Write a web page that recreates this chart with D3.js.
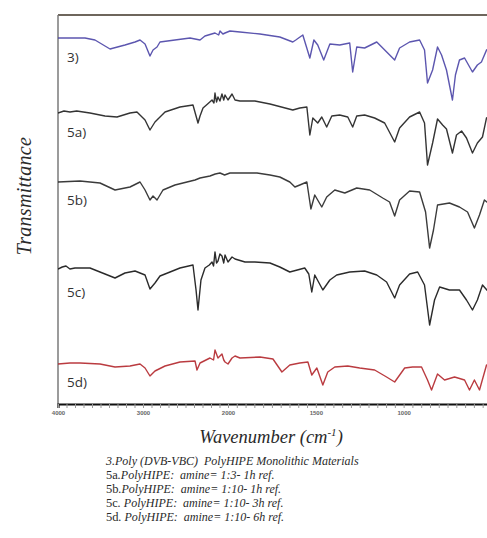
<!DOCTYPE html>
<html>
<head>
<meta charset="utf-8">
<script src="https://cdn.jsdelivr.net/npm/d3@7"></script>
<style>
  body { margin: 0; background: #fff; }
  svg { display: block; }
</style>
</head>
<body>
<svg id="chart" width="487" height="538"></svg>
<script>
// FTIR spectra, [wavenumber cm-1, transmittance a.u. relative to own baseline]
const spec3 = [
  [4000,0],[3682,0],[3565,-2],[3388,-11],[3212,-7],[3094,-4],[3035,-2],[2976,-6],[2918,-18],
  [2882,-12],[2835,-9],[2800,-4],[2624,-2],[2447,0],[2329,-2],[2271,2],[2153,5],[2110,3],[2094,7],
  [2060,4],[2035,5],[1989,7],[1932,6],[1818,4],[1705,1],[1631,-4],[1614,-2],[1574,3],[1534,-20],
  [1511,-2],[1489,-7],[1455,-22],[1420,-6],[1364,-7],[1307,-5],[1290,-34],[1267,-9],[1222,-10],
  [1153,-4],[1119,-10],[1051,-22],[1023,-10],[966,-4],[909,-2],[881,-12],[864,-45],[835,-32],
  [807,-9],[784,-17],[756,-32],[722,-62],[705,-37],[682,-22],[653,-20],[608,-34],[580,-27],
  [557,-24],[528,-12],[500,-8]
];
const spec5a = [
  [4000,0],[3930,2],[3859,1],[3780,2],[3624,0],[3447,-3],[3306,-4],[3153,0],[3071,1],[2976,-7],
  [2918,-17],[2859,-9],[2741,1],[2565,6],[2412,8],[2353,-10],[2329,-3],[2294,5],[2240,9],[2188,13],
  [2165,10],[2153,20],[2135,11],[2118,16],[2095,12],[2071,19],[2050,13],[2035,18],[2000,13],
  [1977,19],[1960,13],[1932,12],[1847,12],[1761,9],[1631,3],[1591,5],[1551,6],[1534,-22],[1517,-5],
  [1489,-10],[1466,-4],[1438,-14],[1409,-3],[1364,-2],[1318,-4],[1290,-14],[1267,-3],[1222,-2],
  [1165,-5],[1108,-10],[1051,-29],[1023,-15],[966,-4],[909,1],[881,-10],[864,-52],[835,-30],
  [807,-6],[778,-12],[756,-16],[722,-40],[699,-22],[670,-18],[642,-25],[608,-40],[580,-30],
  [551,-24],[528,-5],[500,-3]
];
const spec5b = [
  [4000,0],[3741,1],[3506,-1],[3329,-8],[3153,-5],[3035,0],[2976,-8],[2918,-18],[2882,-14],
  [2835,-18],[2765,-8],[2624,-3],[2388,2],[2329,4],[2212,6],[2150,8],[2094,9],[2040,7],[1989,9],
  [1932,9],[1835,9],[1761,7],[1705,5],[1648,0],[1619,-5],[1591,-3],[1551,0],[1528,-27],[1506,-13],
  [1466,-25],[1438,-15],[1392,-8],[1335,-11],[1267,-6],[1193,-8],[1119,-16],[1080,-20],[1051,-34],
  [1023,-18],[966,-9],[909,-10],[875,-30],[852,-66],[830,-48],[807,-23],[739,-21],[682,-25],
  [636,-30],[597,-46],[568,-33],[540,-18],[511,-22]
];
const spec5c = [
  [4000,0],[3950,2],[3906,3],[3860,0],[3800,1],[3624,1],[3506,-3],[3329,-9],[3212,-4],[3094,-2],
  [2976,-6],[2918,-20],[2859,-14],[2800,-7],[2682,-3],[2565,1],[2412,4],[2376,-21],[2353,-41],
  [2318,-11],[2271,1],[2220,4],[2188,7],[2170,3],[2153,17],[2135,6],[2118,8],[2095,15],[2071,13],
  [2050,6],[2035,14],[2000,7],[1977,12],[1960,10],[1903,7],[1847,7],[1761,6],[1705,2],[1648,-3],
  [1563,1],[1540,-5],[1523,-23],[1506,-6],[1460,-21],[1420,-11],[1381,-6],[1307,-3],[1222,-2],
  [1153,-6],[1097,-13],[1051,-29],[1023,-16],[966,-5],[920,-3],[881,-16],[852,-56],[824,-31],
  [795,-18],[739,-21],[682,-21],[642,-31],[608,-41],[580,-31],[551,-16],[511,-24]
];
const spec5d = [
  [4000,0],[3859,1],[3741,1],[3506,0],[3329,-3],[3153,-2],[3035,0],[2976,-4],[2918,-12],[2859,-7],
  [2741,-2],[2565,2],[2388,3],[2365,-6],[2329,1],[2212,6],[2170,4],[2153,14],[2118,6],[2071,10],
  [2050,4],[2035,2],[2000,0],[1977,6],[1960,8],[1932,6],[1818,7],[1744,5],[1693,-8],[1648,-1],
  [1591,1],[1545,2],[1523,-11],[1494,-4],[1460,-21],[1432,-8],[1392,-3],[1318,-2],[1250,-4],
  [1165,-6],[1097,-13],[1051,-18],[994,-4],[949,-3],[898,-3],[864,-16],[841,-26],[807,-10],
  [767,-16],[710,-13],[653,-16],[625,-26],[597,-16],[568,-26],[528,-1],[500,2]
];

const seriesNames = ['3)', '5a)', '5b)', '5c)', '5d)'];
const seriesData = [spec3, spec5a, spec5b, spec5c, spec5d];
const seriesOffsets = [366, 291, 222, 135, 40];
const seriesColors = ['#4a44a6', '#1e1e1e', '#262626', '#141414', '#b3262b'];

const tickLabels = [4000, 3000, 2000, 1500, 1000];
const captionLines = [
  ['3.', 'Poly (DVB-VBC)  PolyHIPE Monolithic Materials'],
  ['5a', '.PolyHIPE:  amine= 1:3- 1h ref.'],
  ['5b', '.PolyHIPE:  amine= 1:10- 1h ref.'],
  ['5c', '. PolyHIPE:  amine= 1:10- 3h ref.'],
  ['5d', '. PolyHIPE:  amine= 1:10- 6h ref.']
];

const plotLeft = 58, plotRight = 509, plotTop = 15, plotBottom = 404;

// FTIR axis: scale doubles below 2000 cm-1
const x = d3.scaleLinear().domain([4000, 2000, 400]).range([plotLeft, 228, plotRight]);
const y = d3.scaleLinear().domain([0, 389]).range([plotBottom, plotTop]);

const svg = d3.select('#chart');

svg.append('clipPath').attr('id', 'plotclip')
  .append('rect')
  .attr('x', plotLeft).attr('y', plotTop)
  .attr('width', plotRight - plotLeft).attr('height', plotBottom - plotTop);

// frame
svg.append('line')
  .attr('x1', plotLeft).attr('x2', plotRight).attr('y1', plotTop).attr('y2', plotTop)
  .style('stroke', '#6e665c').style('stroke-width', 2.2);
svg.append('line')
  .attr('x1', plotLeft).attr('x2', plotLeft).attr('y1', plotTop).attr('y2', plotBottom)
  .style('stroke', '#7a7a7a').style('stroke-width', 1.5);

const line = d3.line()
  .x(d => x(d[0]))
  .y(d => d[1]);

const plot = svg.append('g').attr('clip-path', 'url(#plotclip)');
plot.selectAll('path.spec')
  .data(seriesData)
  .enter()
  .append('path')
  .attr('class', 'spec')
  .attr('d', (d, i) => line(d.map(p => [p[0], y(seriesOffsets[i] + p[1])])))
  .style('fill', 'none')
  .style('stroke', (_, i) => seriesColors[i])
  .style('stroke-width', 1.4)
  .style('stroke-linejoin', 'round')
  .style('opacity', 0.9);

plot.selectAll('text.lab')
  .data(seriesNames)
  .enter()
  .append('text')
  .attr('class', 'lab')
  .attr('x', 67)
  .attr('y', (_, i) => y(seriesOffsets[i]) + [24, 24, 23, 28, 23][i])
  .text(d => d)
  .style('font-family', 'Open Sans, sans-serif')
  .style('font-size', '13.5px')
  .style('fill', '#333');

// bottom axis with minor ticks
const minor = d3.range(4000, 2000, -100).concat(d3.range(2000, 399, -50));
const axis = d3.axisBottom(x)
  .tickValues(minor)
  .tickSize(4)
  .tickFormat(d => tickLabels.includes(d) ? d : '');
const ax = svg.append('g')
  .attr('transform', `translate(0,${plotBottom})`)
  .call(axis);
ax.select('.domain').style('stroke', '#111').style('stroke-width', 2.2);
ax.selectAll('.tick line').style('stroke', '#999').style('stroke-width', 1);
ax.selectAll('.tick text')
  .attr('y', 7)
  .style('font-family', 'Liberation Sans, sans-serif')
  .style('font-size', '6px')
  .style('font-weight', 'bold')
  .style('fill', '#666');

svg.append('text')
  .attr('x', 271).attr('y', 443)
  .attr('text-anchor', 'middle')
  .style('font-family', 'Liberation Serif, serif')
  .style('font-style', 'italic')
  .style('font-size', '18.5px')
  .style('fill', '#2a2a2a')
  .html('Wavenumber (cm<tspan dy="-7" font-size="11px">-1</tspan><tspan dy="7">)</tspan>');

svg.append('text')
  .attr('transform', 'translate(31,196) rotate(-90)')
  .attr('text-anchor', 'middle')
  .style('font-family', 'Liberation Serif, serif')
  .style('font-style', 'italic')
  .style('font-size', '20px')
  .style('letter-spacing', '0.3px')
  .style('fill', '#2a2a2a')
  .text('Transmittance');

const cap = svg.append('g')
  .selectAll('text')
  .data(captionLines)
  .enter()
  .append('text')
  .attr('x', 106)
  .attr('y', (_, i) => 465 + i * 14)
  .style('font-family', 'Liberation Serif, serif')
  .style('white-space', 'pre')
  .style('fill', '#2a2a2a');
cap.append('tspan')
  .text(d => d[0])
  .style('font-size', (_, i) => i == 0 ? '12px' : '12.5px')
  .style('font-style', (_, i) => i == 0 ? 'italic' : 'normal');
cap.append('tspan')
  .text(d => d[1])
  .style('font-size', '12px')
  .style('font-style', 'italic');
</script>
</body>
</html>
